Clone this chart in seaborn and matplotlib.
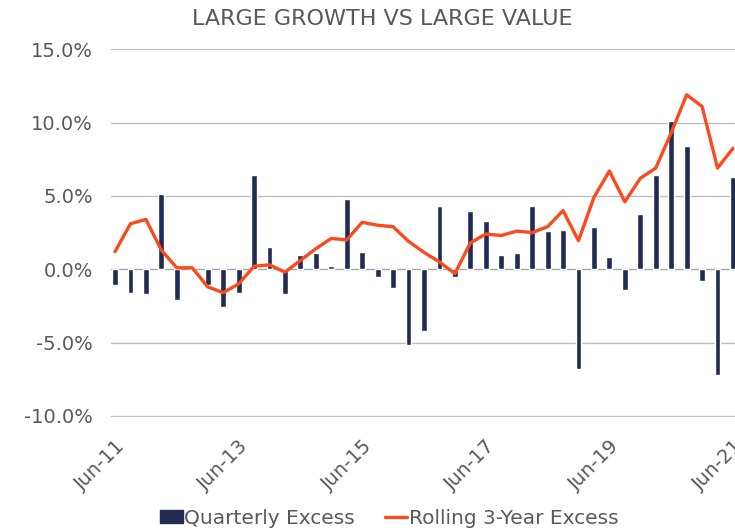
import matplotlib
matplotlib.use("Agg")
import matplotlib.pyplot as plt
import seaborn as sns
import pandas as pd
from matplotlib.patches import Patch
from matplotlib.lines import Line2D

# Quarterly excess return (Large Growth minus Large Value), %
quarterly_excess = [
    -1.1, -1.6, -1.7, 5.1, -2.1, 0.0, -1.1, -2.6, -1.6, 6.4,
    1.5, -1.7, 1.0, 1.1, 0.2, 4.8, 1.2, -0.5, -1.3, -5.2,
    -4.2, 4.3, -0.5, 4.0, 3.3, 1.0, 1.1, 4.3, 2.6, 2.7,
    -6.8, 2.9, 0.8, -1.4, 3.8, 6.4, 10.1, 8.4, -0.8, -7.2,
    6.3,
]
# Rolling 3-year excess return, %
rolling_3yr = [
    1.2, 3.1, 3.4, 1.3, 0.1, 0.1, -1.2, -1.6, -1.0, 0.2,
    0.3, -0.2, 0.6, 1.4, 2.1, 2.0, 3.2, 3.0, 2.9, 1.9,
    1.15, 0.5, -0.3, 1.8, 2.4, 2.3, 2.6, 2.5, 2.9, 4.0,
    1.95, 4.9, 6.7, 4.6, 6.2, 6.9, 9.3, 11.9, 11.1, 6.9,
    8.25,
]
quarters = pd.period_range("2011Q2", "2021Q2", freq="Q").strftime("%b-%y").tolist()
tick_labels = ["Jun-11", "Jun-13", "Jun-15", "Jun-17", "Jun-19", "Jun-21"]
y_ticks = [-10, -5, 0, 5, 10, 15]

df = pd.DataFrame({
    "idx": range(len(quarters)),
    "quarter": quarters,
    "Quarterly Excess": quarterly_excess,
    "Rolling 3-Year Excess": rolling_3yr,
})

BAR = "#232B52"
LINE = "#FA4A1E"
TEXT = "#595959"
GRID = "#BFBFBF"

sns.set_theme(style="white")
plt.rcParams["font.family"] = ["DejaVu Sans"]

fig = plt.figure(figsize=(7.35, 5.3), dpi=100)
ax = fig.add_axes([0.151, 0.2132, 0.849, 0.6943])

for y in y_ticks:
    ax.axhline(y, color=GRID if y != 0 else "#A6A6A6", lw=1.0, zorder=0)

sns.barplot(data=df, x="idx", y="Quarterly Excess", color=BAR, width=0.38,
            saturation=1, ax=ax, zorder=2)
sns.lineplot(data=df, x="idx", y="Rolling 3-Year Excess", color=LINE, lw=2.4,
             ax=ax, zorder=3)

ax.set_xlim(-0.26, 40.13)
ax.set_ylim(-10.08, 15.02)
ax.set_yticks(y_ticks)
ax.set_yticklabels([f"{v:.1f}%" for v in y_ticks])
ax.set_xticks([quarters.index(t) for t in tick_labels])
ax.set_xticklabels(tick_labels, rotation=45, ha="right", rotation_mode="anchor")
ax.tick_params(axis="y", length=0, pad=13, labelsize=14, labelcolor=TEXT)
ax.tick_params(axis="x", length=0, pad=14, labelsize=14, labelcolor=TEXT)
ax.set_xlabel("")
ax.set_ylabel("")
for s in ax.spines.values():
    s.set_visible(False)

fig.text(0.52, 0.965, "LARGE GROWTH VS LARGE VALUE", ha="center", va="center",
         fontsize=16, color=TEXT)

handles = [Patch(facecolor=BAR, edgecolor=BAR),
           Line2D([0], [0], color=LINE, lw=2.4)]
fig.legend(handles, ["Quarterly Excess", "Rolling 3-Year Excess"],
           loc="center", bbox_to_anchor=(0.53, 0.022), ncol=2, frameon=False,
           fontsize=14.5, labelcolor=TEXT, handlelength=1.1, handletextpad=0.08,
           columnspacing=1.5, handleheight=0.6)

fig.savefig("out.png", dpi=100)
